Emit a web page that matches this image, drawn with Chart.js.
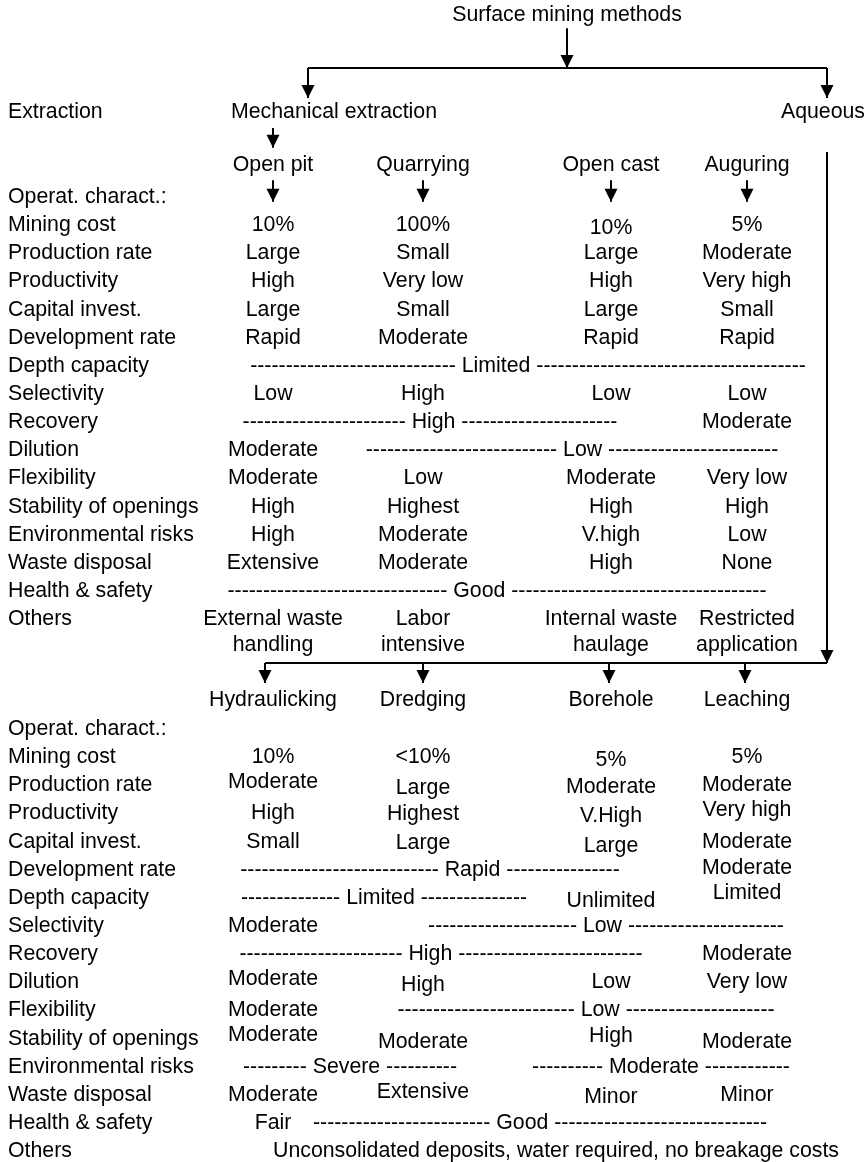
<!DOCTYPE html>
<html>
<head>
<meta charset="utf-8">
<title>Surface mining methods</title>
<script src="https://cdn.jsdelivr.net/npm/chart.js@4"></script>
<style>
  html, body { margin: 0; padding: 0; background: #fff; }
  #chart { display: block; }
</style>
</head>
<body>
<canvas id="chart" width="867" height="1162"></canvas>
<script>
// helper for the "------ word ------" cells that run across several columns
function dashed(left, word, right) {
    return "-".repeat(left) + " " + word + " " + "-".repeat(right);
}

// Row labels on the left, same for both halves
const rowLabels = [
    "Mining cost", "Production rate", "Productivity", "Capital invest.",
    "Development rate", "Depth capacity", "Selectivity", "Recovery",
    "Dilution", "Flexibility", "Stability of openings", "Environmental risks",
    "Waste disposal", "Health & safety", "Others"
];

const title = "Surface mining methods";
const groups = ["Mechanical extraction", "Aqueous"];
const mechMethods = ["Open pit", "Quarrying", "Open cast", "Auguring"];
const aqueousMethods = ["Hydraulicking", "Dredging", "Borehole", "Leaching"];

const mechValues = [
    ["10%", "100%", "10%", "5%"],
    ["Large", "Small", "Large", "Moderate"],
    ["High", "Very low", "High", "Very high"],
    ["Large", "Small", "Large", "Small"],
    ["Rapid", "Moderate", "Rapid", "Rapid"],
    [dashed(29, "Limited", 38)],
    ["Low", "High", "Low", "Low"],
    [dashed(23, "High", 22), "Moderate"],
    ["Moderate", dashed(27, "Low", 24)],
    ["Moderate", "Low", "Moderate", "Very low"],
    ["High", "Highest", "High", "High"],
    ["High", "Moderate", "V.high", "Low"],
    ["Extensive", "Moderate", "High", "None"],
    [dashed(31, "Good", 36)],
    ["External waste\nhandling", "Labor\nintensive", "Internal waste\nhaulage", "Restricted\napplication"]
];

const aqueousValues = [
    ["10%", "<10%", "5%", "5%"],
    ["Moderate", "Large", "Moderate", "Moderate"],
    ["High", "Highest", "V.High", "Very high"],
    ["Small", "Large", "Large", "Moderate"],
    [dashed(28, "Rapid", 16), "Moderate"],
    [dashed(14, "Limited", 15), "Unlimited", "Limited"],
    ["Moderate", dashed(21, "Low", 22)],
    [dashed(23, "High", 26), "Moderate"],
    ["Moderate", "High", "Low", "Very low"],
    ["Moderate", dashed(25, "Low", 21)],
    ["Moderate", "Moderate", "High", "Moderate"],
    [dashed(9, "Severe", 10), dashed(10, "Moderate", 12)],
    ["Moderate", "Extensive", "Minor", "Minor"],
    ["Fair", dashed(25, "Good", 30)],
    ["Unconsolidated deposits, water required, no breakage costs"]
];

// ---- layout (x in canvas units, y in text rows) ----
const COL = [273, 423, 611, 747];
const LABEL_X = 8;
const RIGHT_X = 827;
const LINE_GAP = 0.9;
const ROW_PX = 28.15;
const ROW = {
    title: 0.55, branch: 2.42, extraction: 4.0,
    mechHeader: 5.85, mechOperat: 7.0, mechFirst: 8.0,
    aqBranch: 23.55, aqHeader: 24.87, aqOperat: 25.9, aqFirst: 26.9
};
// x positions for rows that don't have one cell per column
const mechX = { 5: [528], 7: [430, COL[3]], 8: [COL[0], 572], 13: [497] };
const aqueousX = {
    4: [430, COL[3]], 5: [384, COL[2], COL[3]], 6: [COL[0], 606],
    7: [441, COL[3]], 9: [COL[0], 586], 11: [350, 661], 13: [COL[0], 540], 14: [556]
};
// small vertical shifts (px) of single cells, as in the original typesetting
const mechNudge = { 0: [0, 0, 3, 0] };
const aqueousNudge = {
    0: [0, 0, 3, 0], 1: [-3, 3, 2, 0], 2: [0, 1, 3, -3], 3: [0, 1, 4, 0],
    4: [0, -2], 5: [0, 3, -5], 8: [-3, 3, 0, 0], 10: [-4, 3, -3, 3], 12: [0, -3, 2, 0]
};

const FONT = '21.3px "Liberation Sans", Arial, sans-serif';
const INK = "#000";

function cellPoints(values, xOverrides, nudges, firstRow) {
    const pts = [];
    values.forEach((row, r) => {
        const xs = xOverrides[r] || COL;
        const dys = nudges[r] || [];
        row.forEach((text, c) => {
            text.split("\n").forEach((line, k) => {
                pts.push({
                    x: xs[c],
                    y: firstRow + r + k * LINE_GAP + (dys[c] || 0) / ROW_PX,
                    text: line, align: "center"
                });
            });
        });
    });
    return pts;
}

function labelPoints(firstRow) {
    const pts = [{ x: LABEL_X, y: firstRow - 1, text: "Operat. charact.:", align: "left" }];
    rowLabels.forEach((label, r) => pts.push({ x: LABEL_X, y: firstRow + r, text: label, align: "left" }));
    return pts;
}

const headerPoints = [
    { x: 567, y: ROW.title, text: title, align: "center" },
    { x: LABEL_X, y: ROW.extraction, text: "Extraction", align: "left" },
    { x: 231, y: ROW.extraction, text: groups[0], align: "left" },
    { x: 865, y: ROW.extraction, text: groups[1], align: "right" }
];
mechMethods.forEach((m, i) => headerPoints.push({ x: COL[i], y: ROW.mechHeader, text: m, align: "center" }));
aqueousMethods.forEach((m, i) => headerPoints.push({ x: COL[i], y: ROW.aqHeader, text: m, align: "center" }));

// connectors
const aqArrowX = [265, COL[1], 609, 745];
const arrows = [
    [[567, ROW.title + 0.45], [567, ROW.branch]],
    [[308, ROW.branch], [308, ROW.branch + 1.06]],
    [[RIGHT_X, ROW.branch], [RIGHT_X, ROW.branch + 1.06]],
    [[COL[0], ROW.extraction + 0.55], [COL[0], ROW.mechHeader - 0.6]],
    [[RIGHT_X, ROW.mechHeader - 0.45], [RIGHT_X, ROW.aqBranch]]
];
COL.forEach(x => arrows.push([[x, ROW.mechHeader + 0.55], [x, ROW.mechOperat + 0.17]]));
aqArrowX.forEach(x => arrows.push([[x, ROW.aqBranch], [x, ROW.aqBranch + 0.71]]));
const lines = [
    [[308, ROW.branch], [RIGHT_X, ROW.branch]],
    [[aqArrowX[0], ROW.aqBranch], [RIGHT_X, ROW.aqBranch]]
];

function textSet(points) {
    return { textCells: true, data: points, pointRadius: 0, showLine: false };
}
function lineSet(seg, arrow) {
    return {
        arrow: arrow,
        data: seg.map(p => ({ x: p[0], y: p[1] })),
        showLine: true, borderColor: INK, borderWidth: 2,
        pointRadius: 0, clip: false
    };
}

const datasets = [
    textSet(headerPoints),
    textSet(labelPoints(ROW.mechFirst)),
    textSet(labelPoints(ROW.aqFirst)),
    textSet(cellPoints(mechValues, mechX, mechNudge, ROW.mechFirst)),
    textSet(cellPoints(aqueousValues, aqueousX, aqueousNudge, ROW.aqFirst))
];
lines.forEach(seg => datasets.push(lineSet(seg, false)));
arrows.forEach(seg => datasets.push(lineSet(seg, true)));

// draws the strings attached to each point
const textPlugin = {
    id: "textCells",
    afterDatasetsDraw(chart) {
        const ctx = chart.ctx;
        ctx.save();
        ctx.font = FONT;
        ctx.fillStyle = INK;
        ctx.textBaseline = "middle";
        chart.data.datasets.forEach((ds, i) => {
            if (!ds.textCells) return;
            chart.getDatasetMeta(i).data.forEach((pt, j) => {
                ctx.textAlign = ds.data[j].align;
                ctx.fillText(ds.data[j].text, pt.x, pt.y);
            });
        });
        ctx.restore();
    }
};

// filled arrowhead at the end of each arrow segment
const arrowPlugin = {
    id: "arrowHeads",
    afterDatasetsDraw(chart) {
        const ctx = chart.ctx;
        ctx.save();
        ctx.fillStyle = INK;
        chart.data.datasets.forEach((ds, i) => {
            if (!ds.arrow) return;
            const pts = chart.getDatasetMeta(i).data;
            const a = pts[pts.length - 2], b = pts[pts.length - 1];
            const ang = Math.atan2(b.y - a.y, b.x - a.x);
            const len = 13, half = 6.5;
            ctx.beginPath();
            ctx.moveTo(b.x, b.y);
            ctx.lineTo(b.x - len * Math.cos(ang) - half * Math.sin(ang), b.y - len * Math.sin(ang) + half * Math.cos(ang));
            ctx.lineTo(b.x - len * Math.cos(ang) + half * Math.sin(ang), b.y - len * Math.sin(ang) - half * Math.cos(ang));
            ctx.closePath();
            ctx.fill();
        });
        ctx.restore();
    }
};

new Chart(document.getElementById("chart"), {
    type: "scatter",
    data: { datasets: datasets },
    options: {
        responsive: false,
        animation: false,
        events: [],
        layout: { padding: 0 },
        plugins: { legend: { display: false }, tooltip: { enabled: false } },
        scales: {
            x: { type: "linear", min: 0, max: 867, display: false },
            y: { type: "linear", min: 0, max: 1162 / ROW_PX, reverse: true, display: false }
        }
    },
    plugins: [textPlugin, arrowPlugin]
});
</script>
</body>
</html>
